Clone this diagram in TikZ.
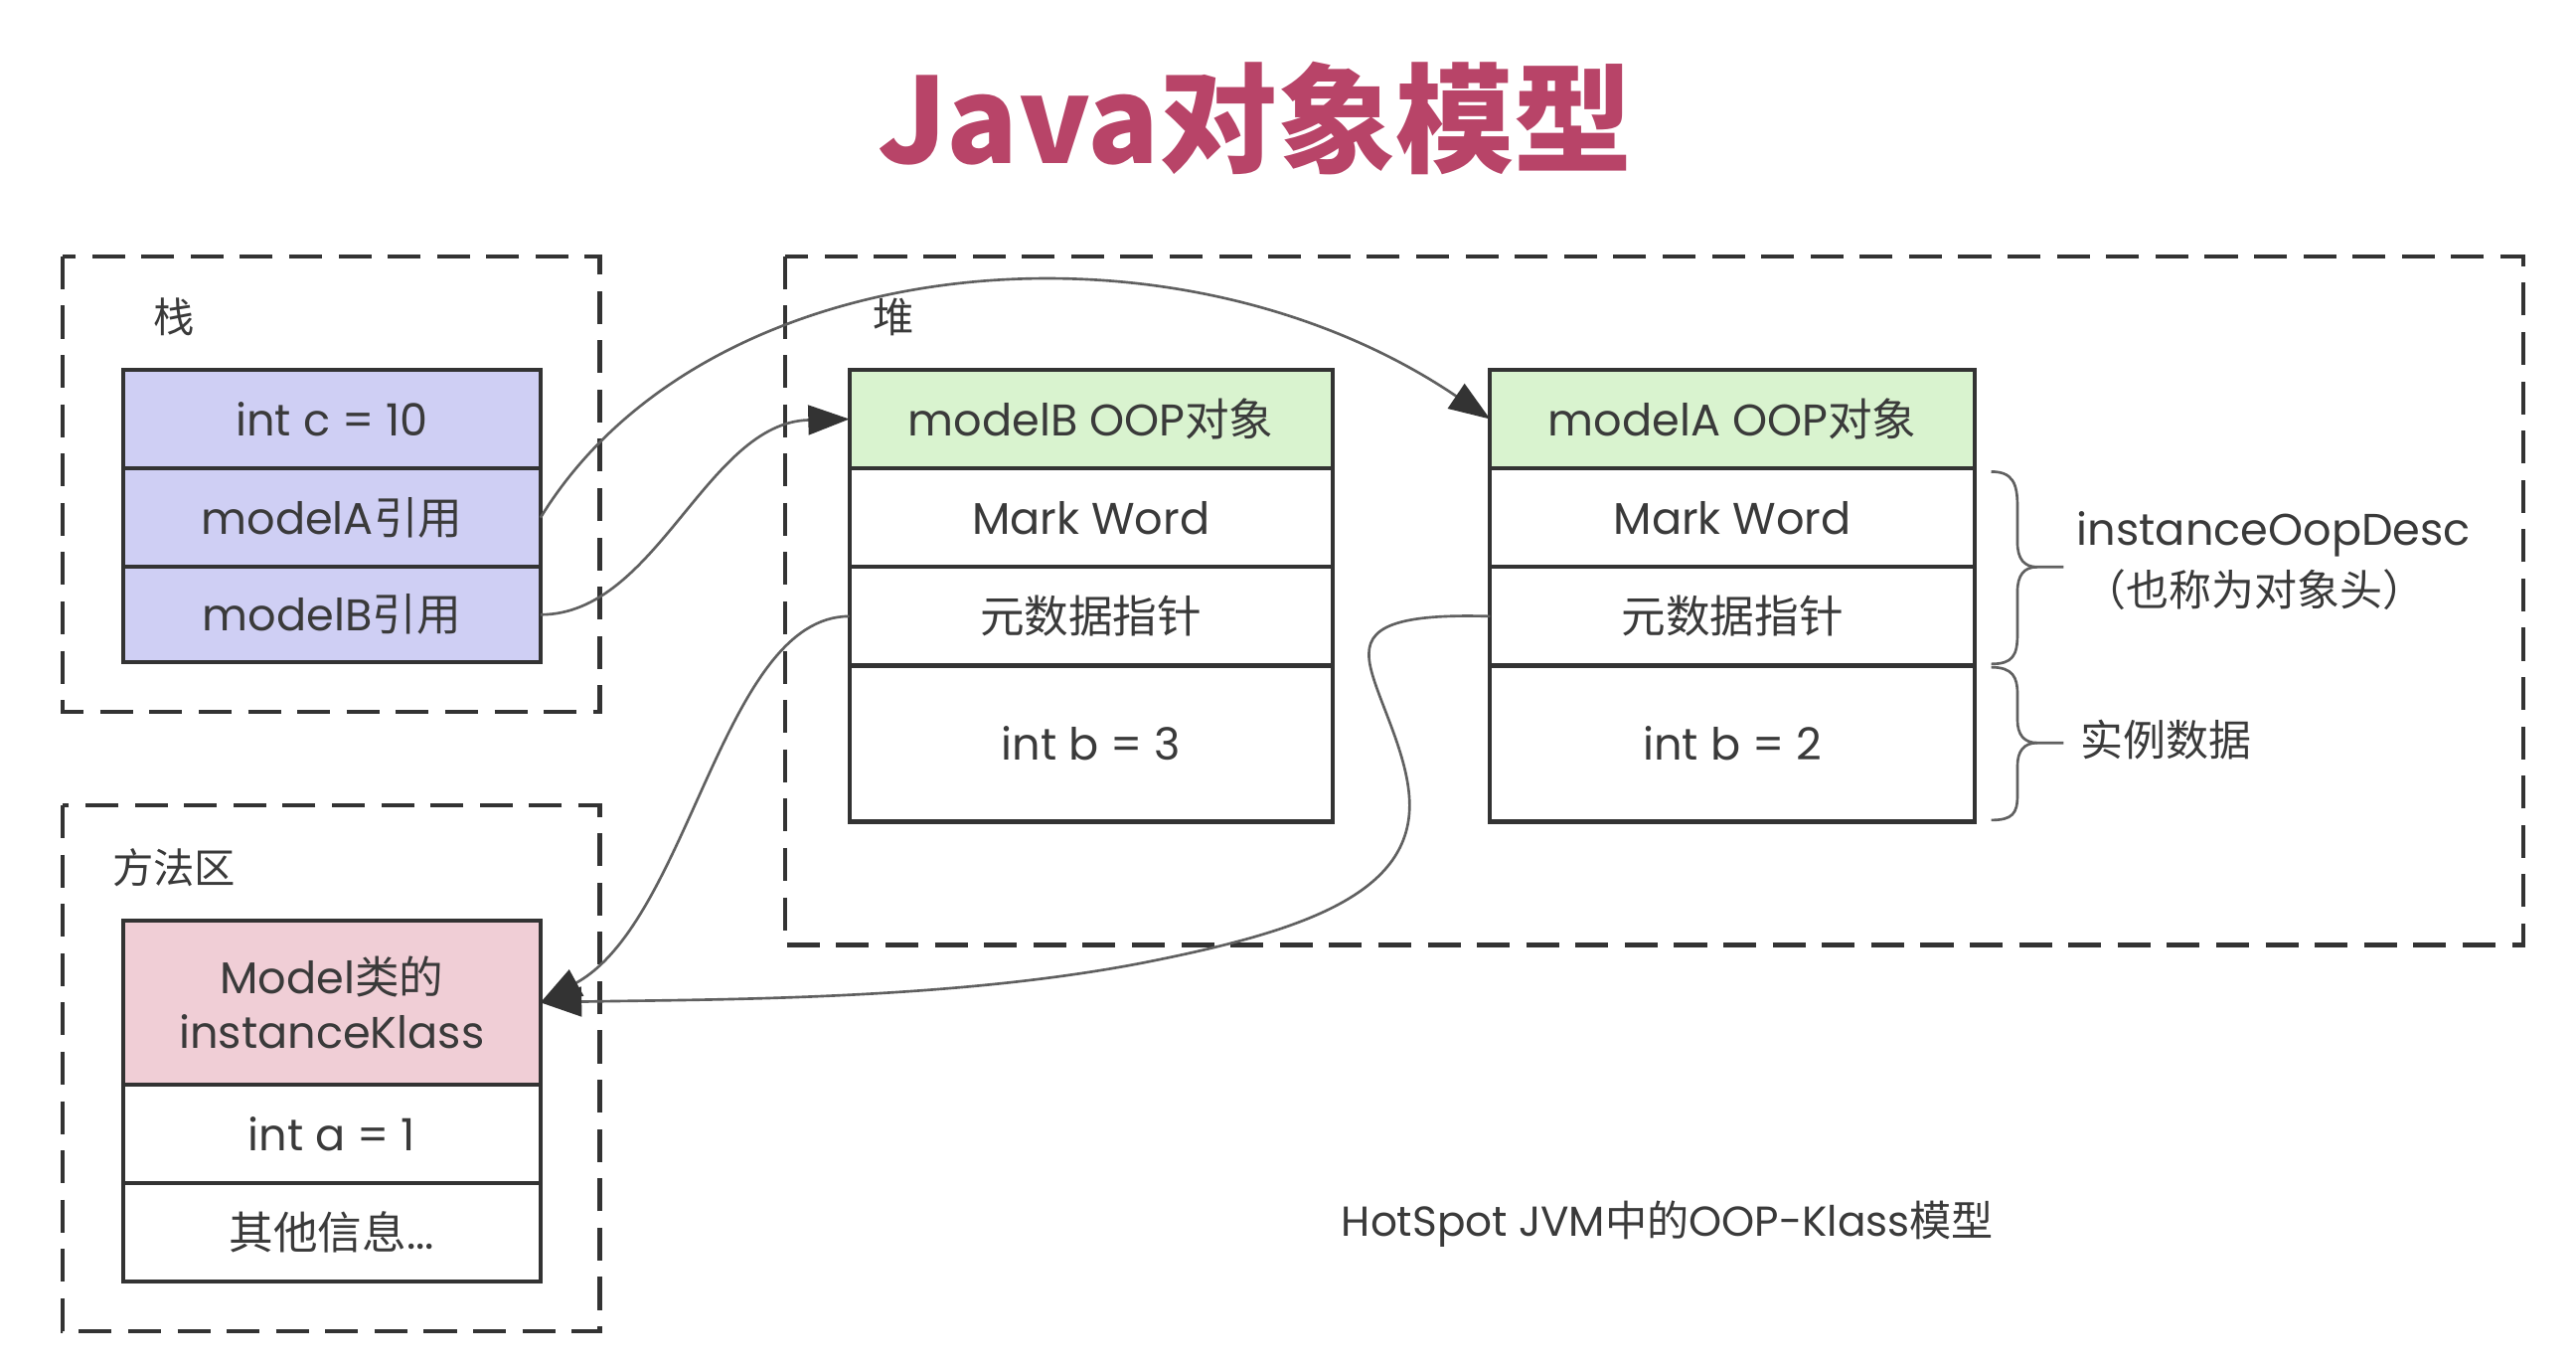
\documentclass[tikz,border=0pt]{standalone}
\usepackage{fontspec}
\setmainfont{Poppins}
\newfontfamily\cjk{Noto Sans CJK SC}
\usetikzlibrary{arrows.meta}
\newcommand{\zh}[1]{{\cjk #1}}
\definecolor{linecol}{HTML}{333333}
\definecolor{txt}{HTML}{3A3A3A}
\definecolor{arrowcol}{HTML}{606060}
\definecolor{tipcol}{HTML}{333333}
\definecolor{lav}{HTML}{CFCFF4}
\definecolor{grn}{HTML}{D9F3CF}
\definecolor{pnk}{HTML}{F0CED6}
\definecolor{titlecol}{HTML}{B84468}
\tikzset{
  cell/.style 2 args={draw=linecol, line width=2.5pt, minimum width=#1, minimum height=#2,
    inner sep=0pt, outer sep=0pt, anchor=north west, text=txt, align=center,
    font=\fontsize{27}{33}\selectfont},
  dbox/.style={draw=linecol, line width=2.6pt, dash pattern=on 20pt off 10pt},
  region/.style={text=txt, font=\cjk\fontsize{25}{30}\selectfont, inner sep=0pt},
  conn/.style={draw=arrowcol, line width=1.6pt, -{Triangle[length=25pt,width=18pt,color=tipcol]}},
  bracecol/.style={draw=arrowcol, line width=1.6pt},
  note/.style={text=txt, inner sep=0pt, anchor=west},
}
\begin{document}
\begin{tikzpicture}[x=1pt,y=-1pt]
\useasboundingbox[fill=white] (0,0) rectangle (1568,832);

% title
\node[text=titlecol, font=\cjk\bfseries\fontsize{72}{80}\selectfont, inner sep=0pt] (title) at (764,72) {Java对象模型};

% containers
\draw[dbox] (38,156) rectangle (365,433);
\draw[dbox] (478,156) rectangle (1536,575);
\draw[dbox] (38,490) rectangle (365,810);
\node[region] (lstack) at (106,193) {栈};
\node[region] (lheap) at (544,193) {堆};
\node[region] (lmeth) at (106,528) {方法区};

% stack
\node[cell={254pt}{60pt}, fill=lav] (s1) at (75,225) {int c = 10};
\node[cell={254pt}{60pt}, fill=lav] (s2) at (75,285) {modelA\zh{引用}};
\node[cell={254pt}{58pt}, fill=lav] (s3) at (75,345) {modelB\zh{引用}};

% modelB object
\node[cell={294pt}{60pt}, fill=grn] (B0) at (517,225) {modelB OOP\zh{对象}};
\node[cell={294pt}{60pt}, fill=white] (B1) at (517,285) {Mark Word};
\node[cell={294pt}{60pt}, fill=white] (B2) at (517,345) {\zh{元数据指针}};
\node[cell={294pt}{95pt}, fill=white] (B3) at (517,405) {int b = 3};

% modelA object
\node[cell={295pt}{60pt}, fill=grn] (A0) at (907,225) {modelA OOP\zh{对象}};
\node[cell={295pt}{60pt}, fill=white] (A1) at (907,285) {Mark Word};
\node[cell={295pt}{60pt}, fill=white] (A2) at (907,345) {\zh{元数据指针}};
\node[cell={295pt}{95pt}, fill=white] (A3) at (907,405) {int b = 2};

% klass
\node[cell={254pt}{100pt}, fill=pnk] (K0) at (75,560) {Model\zh{类的}\\instanceKlass};
\node[cell={254pt}{60pt}, fill=white] (K1) at (75,660) {int a = 1};
\node[cell={254pt}{60pt}, fill=white] (K2) at (75,720) {\zh{其他信息}...};

% braces
\draw[bracecol] (1212,287) .. controls (1225,287) and (1228,294) .. (1228,308) -- (1228,330)
  .. controls (1228,340) and (1232,345) .. (1240,345) -- (1256,345);
\draw[bracecol] (1240,345) .. controls (1232,345) and (1228,350) .. (1228,360) -- (1228,386)
  .. controls (1228,399) and (1225,404) .. (1212,404);
\draw[bracecol] (1212,406) .. controls (1225,406) and (1228,412) .. (1228,422) -- (1228,438)
  .. controls (1228,447) and (1232,452) .. (1240,452) -- (1256,452);
\draw[bracecol] (1240,452) .. controls (1232,452) and (1228,457) .. (1228,466) -- (1228,484)
  .. controls (1228,495) and (1225,499) .. (1212,499);

\node[note, font=\fontsize{27}{30}\selectfont] (oop) at (1264,325) {instanceOopDesc};
\node[note, font=\cjk\fontsize{26}{30}\selectfont] (hdr) at (1268,359) {（也称为对象头）};
\node[note, font=\cjk\fontsize{26}{30}\selectfont] (inst) at (1266,450) {实例数据};

% caption
\node[text=txt, inner sep=0pt, font=\fontsize{25.5}{28}\selectfont] (cap) at (1015,745) {HotSpot JVM\zh{中的}OOP-Klass\zh{模型}};

% connectors
\draw[conn] (s2.east) .. controls (430,150) and (715,125) .. (A0.west);
\draw[conn] (s3.east) .. controls (400,374) and (430,257) .. (B0.west);
\draw[conn] (B2.west) .. controls (440,375) and (420,560) .. (K0.east);
\draw[conn] (A2.west) .. controls (840,373) and (830,385) .. (834,405)
  .. controls (838,425) and (858,460) .. (858,490)
  .. controls (858,545) and (790,567) .. (700,585)
  .. controls (580,609) and (430,608) .. (K0.east);
\end{tikzpicture}
\end{document}
